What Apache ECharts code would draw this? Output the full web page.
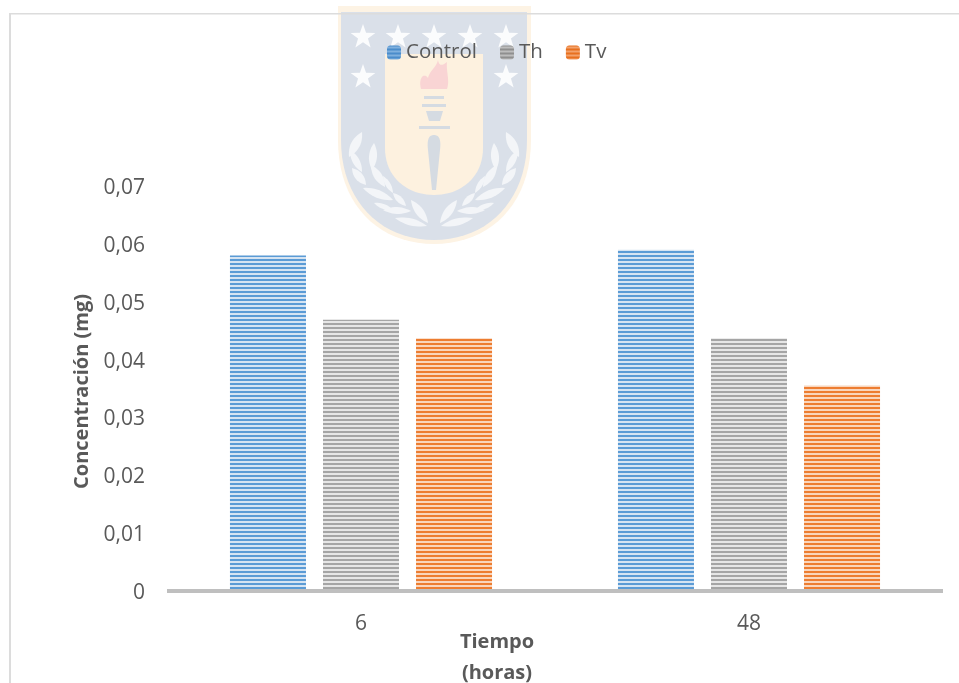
<!DOCTYPE html>
<html>
<head>
<meta charset="utf-8">
<style>html,body{margin:0;padding:0;background:#fff}#c{width:959px;height:683px}</style>
<script src="https://cdn.jsdelivr.net/npm/echarts@6/dist/echarts.min.js"></script>
</head>
<body>
<div id="c"></div>
<script>
const categories = ['6', '48'];
const controlValues = [0.058, 0.059];
const thValues = [0.0469, 0.0437];
const tvValues = [0.0437, 0.0355];
const yTicks = {min: 0, max: 0.07, interval: 0.01};

function stripes(dark, light) {
  const cv = document.createElement('canvas');
  cv.width = 4; cv.height = 4;
  const g = cv.getContext('2d');
  g.fillStyle = light; g.fillRect(0, 0, 4, 4);
  g.fillStyle = dark; g.fillRect(0, 0, 4, 1); g.fillRect(0, 3, 4, 1);
  return {image: cv, repeat: 'repeat'};
}
// flatten a small absolute path (M L H V Q C Z) to polygon points
function flatten(d) {
  const t = d.match(/[MLHVQCZ]|-?[\d.]+/g), pts = [];
  let i = 0, x = 0, y = 0, cmd = '';
  const n = () => parseFloat(t[i++]);
  while (i < t.length) {
    if (/[A-Z]/.test(t[i])) cmd = t[i++];
    if (cmd === 'Z') continue;
    if (cmd === 'M' || cmd === 'L') { x = n(); y = n(); pts.push([x, y]); }
    else if (cmd === 'H') { x = n(); pts.push([x, y]); }
    else if (cmd === 'V') { y = n(); pts.push([x, y]); }
    else if (cmd === 'Q') {
      const a = n(), b = n(), c = n(), e = n();
      for (let k = 1; k <= 12; k++) {
        const s = k / 12, r = 1 - s;
        pts.push([r * r * x + 2 * r * s * a + s * s * c, r * r * y + 2 * r * s * b + s * s * e]);
      }
      x = c; y = e;
    } else if (cmd === 'C') {
      const a = n(), b = n(), c = n(), e = n(), f = n(), h = n();
      for (let k = 1; k <= 20; k++) {
        const s = k / 20, r = 1 - s;
        pts.push([r*r*r*x + 3*r*r*s*a + 3*r*s*s*c + s*s*s*f, r*r*r*y + 3*r*r*s*b + 3*r*s*s*e + s*s*s*h]);
      }
      x = f; y = h;
    }
  }
  return pts;
}
const shape = (d, fill, z) => ({type: 'polygon', z: z, silent: true, shape: {points: flatten(d)}, style: {fill}});
function star(cx, cy, r) {
  const pts = [];
  for (let i = 0; i < 10; i++) {
    const a = -Math.PI / 2 + i * Math.PI / 5, q = i % 2 ? r * 0.4 : r;
    pts.push([cx + q * Math.cos(a), cy + q * Math.sin(a)]);
  }
  return {type: 'polygon', z: -5, silent: true, shape: {points: pts}, style: {fill: '#fbfcfd'}};
}
function leaf(x1, y1, x2, y2, w) {
  const mx = (x1 + x2) / 2, my = (y1 + y2) / 2, dx = y2 - y1, dy = x1 - x2, l = Math.hypot(dx, dy);
  const ox = dx / l * w, oy = dy / l * w;
  return shape(`M${x1} ${y1}Q${mx + ox} ${my + oy} ${x2} ${y2}Q${mx - ox} ${my - oy} ${x1} ${y1}Z`, '#f3f5f8', -5);
}
const crest = [
  shape('M338 6H531V140C531 204 490 244 434 244C378 244 338 204 338 140Z', '#fdf3e4', -7),
  shape('M341 12H527V140C527 200 488 240 434 240C380 240 341 200 341 140Z', '#dae0e9', -6),
  shape('M385 54H483V148C483 178 460 195 434 195C408 195 385 178 385 148Z', '#fdf1df', -5),
  star(363, 37, 13), star(398, 37, 13), star(434, 37, 13), star(470, 37, 13), star(506, 37, 13),
  star(363, 77, 13), star(506, 77, 13),
  shape('M421 89C418 78 424 72 428 78C430 70 436 68 438 60C439 66 442 66 447 62C446 72 450 80 447 89Z', '#f9d4d4', -4),
  {type: 'rect', z: -4, silent: true, shape: {x: 424, y: 96, width: 20, height: 3}, style: {fill: '#d5dbe2'}},
  {type: 'rect', z: -4, silent: true, shape: {x: 422, y: 104, width: 24, height: 3}, style: {fill: '#d5dbe2'}},
  shape('M426 111H443L440 121H429Z', '#d5dbe2', -4),
  {type: 'rect', z: -4, silent: true, shape: {x: 419, y: 126, width: 31, height: 3}, style: {fill: '#d5dbe2'}},
  shape('M434 135C440 135 441 141 440 150L436 190H432L428 150C427 141 428 135 434 135Z', '#d5dbe2', -4),
  leaf(349, 157, 362, 132, 9), leaf(372, 170, 374, 143, 8), leaf(362, 172, 350, 150, 7),
  leaf(352, 168, 366, 185, 8), leaf(371, 165, 385, 187, 8), leaf(383, 176, 393, 193, 5),
  leaf(363, 188, 393, 200, 8), leaf(393, 193, 406, 206, 6), leaf(383, 210, 411, 211, 7),
  leaf(374, 203, 393, 210, 5), leaf(395, 218, 427, 226, 7), leaf(411, 200, 428, 223, 8),
  leaf(519, 157, 506, 132, 9), leaf(496, 170, 494, 143, 8), leaf(506, 172, 518, 150, 7),
  leaf(516, 168, 502, 185, 8), leaf(497, 165, 483, 187, 8), leaf(485, 176, 475, 193, 5),
  leaf(505, 188, 475, 200, 8), leaf(475, 193, 462, 206, 6), leaf(485, 210, 457, 211, 7),
  leaf(494, 203, 475, 210, 5), leaf(473, 218, 441, 226, 7), leaf(457, 200, 440, 223, 8)
];
const frame = [
  {type: 'rect', z: -3, silent: true, shape: {x: 9, y: 13, width: 950, height: 1.5}, style: {fill: '#dcdcdc'}},
  {type: 'rect', z: -3, silent: true, shape: {x: 9, y: 13, width: 2, height: 670}, style: {fill: '#dcdcdc'}}
];

const font = '"Open Sans", sans-serif';
const mk = (name, data, dark, light) => ({
  name, type: 'bar', data, barWidth: 76, barGap: '22.4%',
  itemStyle: {color: stripes(dark, light)}
});
const chart = echarts.init(document.getElementById('c'), null, {renderer: 'canvas'});
chart.setOption({
  animation: false,
  backgroundColor: '#fff',
  textStyle: {fontFamily: font},
  title: {
    text: 'Tiempo\n(horas)', left: 492, top: 622, textAlign: 'center',
    textStyle: {fontFamily: font, fontSize: 20, fontWeight: 'bold', color: '#595959', lineHeight: 31}
  },
  legend: {
    left: 382, top: 37, itemWidth: 14, itemHeight: 14, itemGap: 23,
    textStyle: {fontFamily: font, fontSize: 20.5, color: '#595959'},
    data: [
      {name: 'Control', itemStyle: {color: stripes('#4a8ccb', '#7fb0de')}},
      {name: 'Th', itemStyle: {color: stripes('#8f8f8f', '#bdbdbd')}},
      {name: 'Tv', itemStyle: {color: stripes('#e8701f', '#f3a26c')}}
    ]
  },
  grid: {left: 167, right: 16, top: 186, bottom: 92},
  xAxis: {
    type: 'category', data: categories, z: 5,
    axisLine: {lineStyle: {color: '#bfbfbf', width: 4, cap: 'butt'}},
    axisTick: {show: false},
    axisLabel: {fontFamily: font, fontSize: 21, color: '#595959', margin: 23}
  },
  yAxis: {
    type: 'value', min: yTicks.min, max: yTicks.max, interval: yTicks.interval,
    name: 'Concentración (mg)', nameLocation: 'middle', nameGap: 75,
    nameTextStyle: {fontFamily: font, fontSize: 20, fontWeight: 'bold', color: '#595959', padding: [0, 6, 0, 0]},
    axisLine: {show: false}, axisTick: {show: false}, splitLine: {show: false},
    axisLabel: {
      fontFamily: font, fontSize: 21, color: '#595959', margin: 22, verticalAlign: 'top', lineHeight: 4,
      formatter: v => v === 0 ? '0' : v.toFixed(2).replace('.', ',')
    }
  },
  series: [
    mk('Control', controlValues, '#5b9bd5', '#d6e4f2'),
    mk('Th', thValues, '#a5a5a5', '#e6e6e6'),
    mk('Tv', tvValues, '#ed7d31', '#f9d6bd')
  ],
  graphic: {elements: crest.concat(frame)}
});
</script>
</body>
</html>
